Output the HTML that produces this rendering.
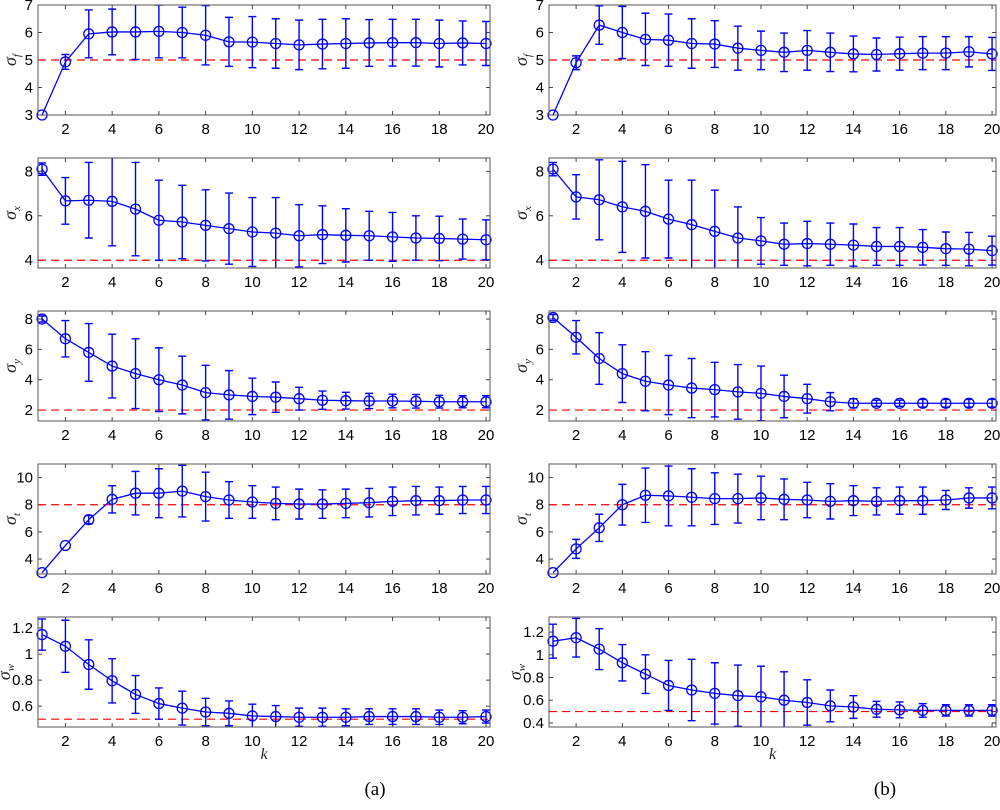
<!DOCTYPE html>
<html><head><meta charset="utf-8"><style>
body{margin:0;background:#fff;width:1000px;height:805px;overflow:hidden}
svg text{font-family:"Liberation Sans",sans-serif}
svg text.serif{font-family:"Liberation Serif",serif}
</style></head><body>
<svg id="fig" width="1000" height="805" viewBox="0 0 1000 805" xmlns="http://www.w3.org/2000/svg"></svg>
<script>
const ks=[1,2,3,4,5,6,7,8,9,10,11,12,13,14,15,16,17,18,19,20];
const xTicks=[2,4,6,8,10,12,14,16,18,20];
// column (a)
const sfA=[3,4.93,5.95,6.02,6.02,6.04,6.0,5.9,5.66,5.65,5.6,5.55,5.58,5.6,5.62,5.63,5.63,5.6,5.62,5.6];
const sfAerr=[0,0.27,0.87,0.83,1.0,0.96,0.92,1.08,0.89,0.93,0.9,0.9,0.9,0.9,0.85,0.85,0.85,0.85,0.8,0.8];
const sxA=[8.1,6.67,6.7,6.65,6.3,5.8,5.72,5.57,5.42,5.27,5.22,5.1,5.15,5.12,5.1,5.05,5.0,4.98,4.95,4.92];
const sxAerr=[0.28,1.05,1.7,2.0,2.1,1.8,1.65,1.6,1.6,1.55,1.6,1.4,1.3,1.2,1.1,1.1,1.0,1.0,0.9,0.9];
const syA=[8.0,6.7,5.8,4.9,4.4,4.0,3.65,3.15,3.0,2.9,2.85,2.75,2.65,2.62,2.6,2.6,2.58,2.55,2.55,2.55];
const syAerr=[0.2,1.2,1.9,2.1,2.3,2.1,1.9,1.8,1.6,1.2,1.0,0.75,0.6,0.55,0.5,0.45,0.45,0.42,0.4,0.4];
const stA=[3,5,6.9,8.4,8.85,8.85,9.0,8.6,8.35,8.2,8.1,8.05,8.05,8.1,8.15,8.25,8.3,8.3,8.35,8.35];
const stAerr=[0,0,0.3,1.0,1.6,1.8,1.9,1.8,1.35,1.2,1.2,1.1,1.05,1.05,1.05,1.05,1.05,1.0,1.0,1.0];
const swA=[1.15,1.06,0.92,0.795,0.69,0.62,0.585,0.555,0.545,0.525,0.52,0.515,0.515,0.515,0.52,0.52,0.52,0.515,0.515,0.52];
const swAerr=[0.12,0.2,0.19,0.17,0.145,0.12,0.13,0.105,0.095,0.09,0.085,0.07,0.07,0.065,0.06,0.06,0.06,0.055,0.05,0.05];
// column (b)
const sfB=[3,4.9,6.27,6.0,5.75,5.72,5.6,5.58,5.43,5.35,5.28,5.35,5.28,5.22,5.2,5.23,5.25,5.25,5.3,5.22];
const sfBerr=[0,0.25,0.7,0.95,0.95,0.95,0.9,0.85,0.8,0.7,0.7,0.72,0.7,0.65,0.6,0.6,0.6,0.6,0.55,0.6];
const sxB=[8.1,6.85,6.72,6.4,6.2,5.85,5.6,5.3,5.0,4.87,4.72,4.75,4.72,4.68,4.62,4.62,4.58,4.52,4.5,4.43];
const sxBerr=[0.3,1.0,1.8,2.05,2.1,1.75,2.0,1.85,1.4,1.05,0.95,1.0,0.95,0.95,0.85,0.85,0.8,0.75,0.75,0.65];
const syB=[8.1,6.8,5.4,4.4,3.9,3.65,3.45,3.35,3.2,3.1,2.9,2.75,2.55,2.45,2.45,2.45,2.45,2.45,2.45,2.45];
const syBerr=[0.2,1.1,1.7,1.9,1.95,1.95,1.95,1.8,1.8,1.8,1.4,0.95,0.6,0.3,0.2,0.2,0.25,0.25,0.25,0.25];
const stB=[3,4.75,6.3,8.0,8.7,8.65,8.55,8.45,8.45,8.5,8.4,8.35,8.25,8.3,8.25,8.3,8.3,8.35,8.5,8.5];
const stBerr=[0,0.7,1.0,1.5,2.0,2.2,2.1,1.9,1.8,1.6,1.5,1.3,1.3,1.1,1.0,1.0,1.0,0.7,0.75,0.8];
const swB=[1.12,1.15,1.05,0.93,0.83,0.73,0.69,0.66,0.64,0.63,0.6,0.58,0.55,0.54,0.52,0.515,0.51,0.51,0.51,0.51];
const swBerr=[0.15,0.17,0.18,0.16,0.17,0.22,0.27,0.27,0.27,0.27,0.25,0.2,0.14,0.1,0.07,0.07,0.06,0.05,0.05,0.05];
const truthVals=[5,4,2,8,0.5];
const yTicksF=[3,4,5,6,7], yTicksX=[4,6,8], yTicksY=[2,4,6,8], yTicksT=[4,6,8,10], yTicksWA=[0.6,0.8,1,1.2], yTicksWB=[0.4,0.6,0.8,1,1.2];
const labels=['f','x','y','t','w'];

const NS='http://www.w3.org/2000/svg';
const svg=document.getElementById('fig');
function mk(tag,attrs,parent){const e=document.createElementNS(NS,tag);for(const k in attrs)e.setAttribute(k,attrs[k]);(parent||svg).appendChild(e);return e;}

const cols=[{x0:38,x1:490,tag:'a'},{x0:549,x1:996,tag:'b'}];
const tops=[5,158,311,464,617], H=110;
const xDom=[0.827,20.17];
const panels={
 a:[[sfA,sfAerr,[3,7],yTicksF],[sxA,sxAerr,[3.65,8.6],yTicksX],[syA,syAerr,[1.28,8.53],yTicksY],[stA,stAerr,[2.9,11.0],yTicksT],[swA,swAerr,[0.44,1.285],yTicksWA]],
 b:[[sfB,sfBerr,[3,7],yTicksF],[sxB,sxBerr,[3.65,8.6],yTicksX],[syB,syBerr,[1.28,8.53],yTicksY],[stB,stBerr,[2.9,11.0],yTicksT],[swB,swBerr,[0.364,1.333],yTicksWB]]
};
cols.forEach((c,ci)=>{
 panels[c.tag].forEach((p,pi)=>{
  const [vals,errs,yd,yt]=p;
  const top=tops[pi], bot=top+H;
  const sx=v=>c.x0+(v-xDom[0])/(xDom[1]-xDom[0])*(c.x1-c.x0);
  const sy=v=>bot-(v-yd[0])/(yd[1]-yd[0])*H;
  const g=mk('g',{});
  
  
  const cid='clip'+c.tag+pi;
  const cp=mk('clipPath',{id:cid},g);mk('rect',{x:c.x0,y:top,width:c.x1-c.x0,height:H},cp);
  xTicks.forEach(t=>{const X=sx(t);
   mk('line',{x1:X,x2:X,y1:bot,y2:bot-4,stroke:'#444','stroke-width':1},g);
   mk('line',{x1:X,x2:X,y1:top,y2:top+4,stroke:'#444','stroke-width':1},g);
   const tx=mk('text',{x:X,y:bot+19,'text-anchor':'middle','font-size':15,fill:'#000'},g);tx.textContent=t;
   
   
  });
  yt.forEach(t=>{const Y=sy(t);
   mk('line',{x1:c.x0,x2:c.x0+4,y1:Y,y2:Y,stroke:'#444','stroke-width':1},g);
   mk('line',{x1:c.x1,x2:c.x1-4,y1:Y,y2:Y,stroke:'#444','stroke-width':1},g);
   const tx=mk('text',{x:c.x0-5,y:Y+5,'text-anchor':'end','font-size':15,fill:'#000'},g);tx.textContent=t;
   
   
  });
  const pg=mk('g',{'clip-path':'url(#'+cid+')'},g);
  const tl=mk('line',{x1:c.x0,x2:c.x1,y1:sy(truthVals[pi]),y2:sy(truthVals[pi]),stroke:'#ff0000','stroke-width':1.2,'stroke-dasharray':'8,5'},pg);
  
  
  let d='';
  ks.forEach((k,i)=>{
   const X=sx(k),Y=sy(vals[i]);d+=(i?'L':'M')+X+','+Y;
   const e=errs[i];
   if(e>0){const y1=sy(vals[i]+e),y2=sy(vals[i]-e);
    const eb=mk('path',{d:`M${X},${y1}V${y2}M${X-4},${y1}H${X+4}M${X-4},${y2}H${X+4}`,stroke:'#0000ff','stroke-width':1.4,fill:'none'},pg);
    
    
   }
  });
  const ln=mk('path',{d:d,stroke:'#0000ff','stroke-width':1.3,fill:'none'},pg);
  
  
  ks.forEach((k,i)=>{
   const m=mk('circle',{cx:sx(k),cy:sy(vals[i]),r:5,stroke:'#0000ff','stroke-width':1.3,fill:'none'},g);
   
   
  });
  mk('rect',{x:c.x0,y:top,width:c.x1-c.x0,height:H,fill:'none',stroke:'#555','stroke-width':1},g);
  const lx=c.x0-(pi===4?28:22);
  const yl=mk('text',{class:'serif',transform:`translate(${lx},${top+H/2}) rotate(-90)`,'text-anchor':'middle','font-size':18,fill:'#222','font-style':'italic'},g);
  yl.innerHTML='σ<tspan font-size="11" dy="4">'+labels[pi]+'</tspan>';
  
  
 });
 const kx=mk('text',{class:'serif',x:(c.x0+c.x1)/2,y:759,'text-anchor':'middle','font-size':16,'font-style':'italic',fill:'#222'});
 kx.textContent='k';
 
 
 const cap=mk('text',{class:'serif',x:ci?885:375,y:795,'text-anchor':'middle','font-size':19,fill:'#000'});
 cap.textContent='('+c.tag+')';
 
 
});
</script>
</body></html>
